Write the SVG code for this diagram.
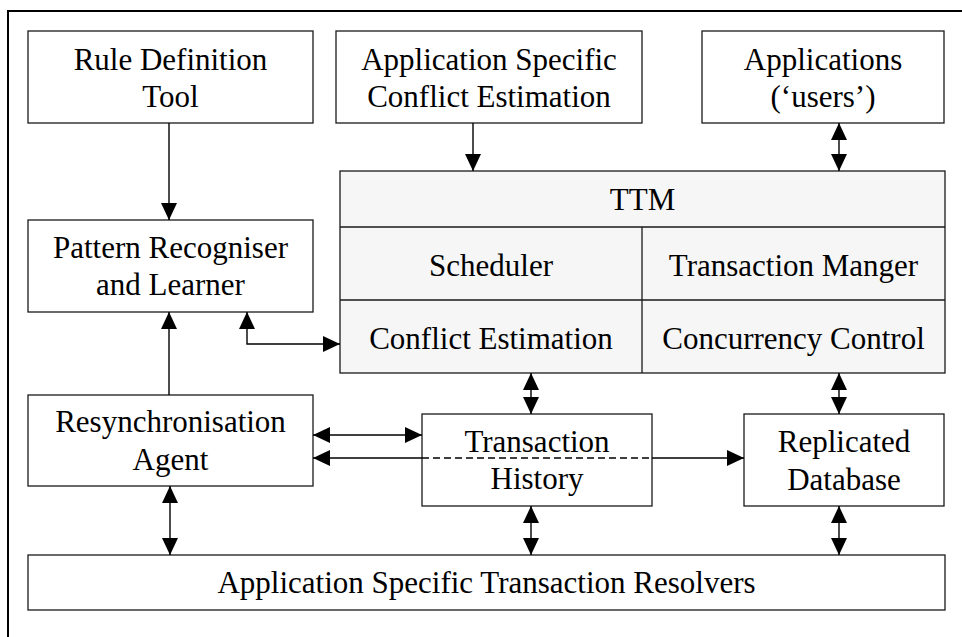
<svg xmlns="http://www.w3.org/2000/svg" width="962" height="637" viewBox="0 0 962 637">
  <style>
    .box { fill: #ffffff; stroke: #1a1a1a; stroke-width: 1.3; }
    .ttm { fill: #f6f6f6; stroke: #1a1a1a; stroke-width: 1.3; }
    .div { fill: none; stroke: #1a1a1a; stroke-width: 1.3; }
    .lbl { font-family: "Liberation Serif", "Times New Roman", serif; font-size: 31px; fill: #000000; text-anchor: middle; }
    .wire { fill: none; stroke: #000000; stroke-width: 1.4; }
    .dash { fill: none; stroke: #000000; stroke-width: 1.4; stroke-dasharray: 7 4; }
  </style>
  <defs>
    <marker id="head" markerUnits="userSpaceOnUse" markerWidth="17" markerHeight="16" viewBox="0 0 17 16" refX="17" refY="8" orient="auto-start-reverse">
      <path d="M0,0 L17,8 L0,16 Z" fill="#000000"/>
    </marker>
  </defs>

  <rect width="962" height="637" fill="#ffffff"/>
  <!-- outer frame, open on the right and bottom -->
  <path d="M8,637 V11 H962" fill="none" stroke="#000000" stroke-width="2"/>

  <g id="rule-definition-tool">
    <rect class="box" x="28" y="31" width="285" height="92"/>
    <text class="lbl" x="170.5" y="70">Rule Definition</text>
    <text class="lbl" x="170.5" y="107">Tool</text>
  </g>

  <g id="app-conflict-estimation">
    <rect class="box" x="336" y="31" width="306" height="92"/>
    <text class="lbl" x="489" y="70">Application Specific</text>
    <text class="lbl" x="489" y="107">Conflict Estimation</text>
  </g>

  <g id="applications">
    <rect class="box" x="702" y="31" width="242" height="92"/>
    <text class="lbl" x="823" y="70">Applications</text>
    <text class="lbl" x="823" y="107">(‘users’)</text>
  </g>

  <g id="ttm">
    <rect class="ttm" x="340" y="171" width="605" height="202"/>
    <path class="div" d="M340,227 H945 M340,300 H945 M642,227 V373"/>
    <text class="lbl" x="642.5" y="210">TTM</text>
    <text class="lbl" x="491" y="276">Scheduler</text>
    <text class="lbl" x="793.5" y="276">Transaction Manger</text>
    <text class="lbl" x="491" y="349">Conflict Estimation</text>
    <text class="lbl" x="793.5" y="349">Concurrency Control</text>
  </g>

  <g id="pattern-recogniser">
    <rect class="box" x="28" y="220" width="285" height="92"/>
    <text class="lbl" x="170.5" y="258">Pattern Recogniser</text>
    <text class="lbl" x="170.5" y="295">and Learner</text>
  </g>

  <g id="resynchronisation-agent">
    <rect class="box" x="28" y="395" width="285" height="91"/>
    <text class="lbl" x="170.5" y="432">Resynchronisation</text>
    <text class="lbl" x="170.5" y="470">Agent</text>
  </g>

  <g id="transaction-history">
    <rect class="box" x="422" y="414" width="230" height="92"/>
    <text class="lbl" x="537" y="452">Transaction</text>
    <text class="lbl" x="537" y="489">History</text>
  </g>

  <g id="replicated-database">
    <rect class="box" x="744" y="414" width="200" height="92"/>
    <text class="lbl" x="844" y="452">Replicated</text>
    <text class="lbl" x="844" y="490">Database</text>
  </g>

  <g id="transaction-resolvers">
    <rect class="box" x="28" y="555" width="917" height="55"/>
    <text class="lbl" x="486.5" y="593">Application Specific Transaction Resolvers</text>
  </g>

  <g id="connectors">
    <line class="wire" x1="169" y1="123" x2="169" y2="220" marker-end="url(#head)"/>
    <line class="wire" x1="473" y1="123" x2="473" y2="171" marker-end="url(#head)"/>
    <line class="wire" x1="839" y1="123" x2="839" y2="171" marker-start="url(#head)" marker-end="url(#head)"/>
    <line class="wire" x1="169" y1="395" x2="169" y2="312" marker-end="url(#head)"/>
    <path class="wire" d="M247,312 V344 H340" marker-start="url(#head)" marker-end="url(#head)"/>
    <line class="wire" x1="531" y1="373" x2="531" y2="414" marker-start="url(#head)" marker-end="url(#head)"/>
    <line class="wire" x1="839" y1="373" x2="839" y2="414" marker-start="url(#head)" marker-end="url(#head)"/>
    <line class="wire" x1="313" y1="435" x2="422" y2="435" marker-start="url(#head)" marker-end="url(#head)"/>
    <line class="wire" x1="422" y1="458" x2="313" y2="458" marker-end="url(#head)"/>
    <line class="dash" x1="422" y1="458" x2="652" y2="458"/>
    <line class="wire" x1="652" y1="458" x2="744" y2="458" marker-end="url(#head)"/>
    <line class="wire" x1="170" y1="486" x2="170" y2="555" marker-start="url(#head)" marker-end="url(#head)"/>
    <line class="wire" x1="531" y1="506" x2="531" y2="555" marker-start="url(#head)" marker-end="url(#head)"/>
    <line class="wire" x1="839" y1="506" x2="839" y2="555" marker-start="url(#head)" marker-end="url(#head)"/>
  </g>
</svg>
